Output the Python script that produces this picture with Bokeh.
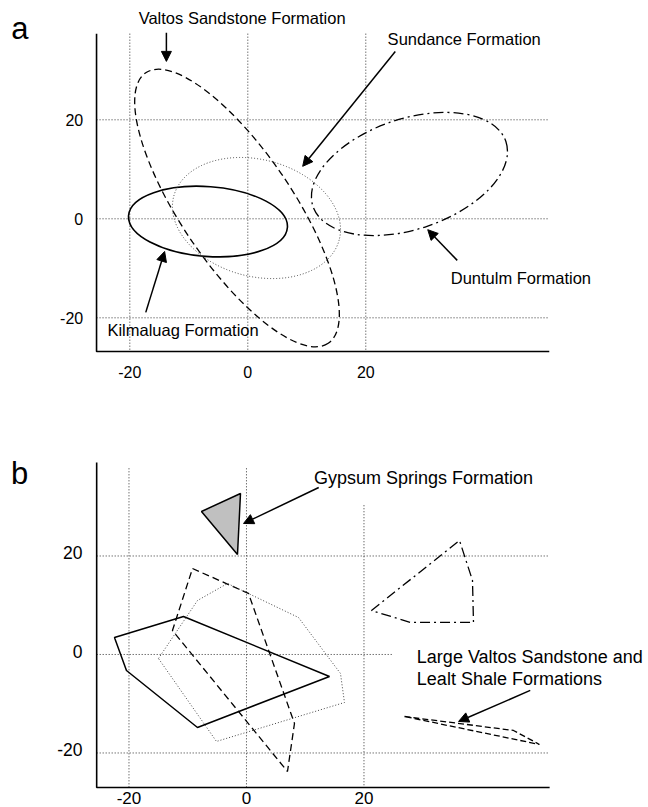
from bokeh.plotting import figure
from bokeh.layouts import column
from bokeh.models import Range1d, Label, Arrow, NormalHead
from bokeh.embed import file_html
from bokeh.resources import INLINE

FONT = "Liberation Sans"

ticks = [-20, 0, 20]
tick_text = ["-20", "0", "20"]

# ---------------- Panel a data (ellipses) ----------------
a_names = ["Kilmaluag", "Valtos", "Sundance", "Duntulm"]
a_cx = [-6.75, -1.83, 1.47, 27.4]
a_cy = [-0.55, 2.18, 0.16, 9.05]
a_w = [27.0, 55.3, 29.0, 34.5]
a_h = [14.1, 22.6, 23.6, 22.3]
a_angle = [-4.3, -56.0, -14.8, 18.6]

a_labels = ["Valtos Sandstone Formation", "Sundance Formation",
            "Duntulm Formation", "Kilmaluag Formation"]
a_label_x = [-18.5, 23.7, 34.4, -23.8]
a_label_y = [40.6, 36.4, -11.9, -22.4]
a_arrow_x0 = [-13.8, 25.0, 35.5, -17.3]
a_arrow_y0 = [37.6, 33.8, -8.4, -18.9]
a_arrow_x1 = [-13.8, 9.3, 30.5, -14.1]
a_arrow_y1 = [31.8, 10.6, -2.2, -6.6]

# axes box of panel a (data units)
a_xmin, a_xmax, a_ymin, a_ymax = -25.64, 51.1, -26.8, 37.4

# ---------------- Panel b data (polygons) ----------------
gyp_x = [-7.66, -1.02, -1.53]
gyp_y = [29.04, 32.69, 20.30]
kil_x = [-22.47, -10.72, 14.13, -8.34, -20.43]
kil_y = [3.45, 7.72, -4.47, -14.82, -3.25]
val_x = [-9.19, 0.34, 8.17, 6.98, -12.60]
val_y = [17.46, 12.39, -14.01, -23.76, 4.87]
sun_x = [-14.98, -8.34, -3.23, 8.85, 16.0, 16.68, -5.11]
sun_y = [-0.81, 10.96, 14.42, 7.51, -3.86, -9.75, -17.66]
dun_x = [21.28, 36.26, 38.47, 38.64, 27.91]
dun_y = [8.93, 23.15, 15.03, 6.5, 6.5]
lv_x = [26.89, 45.45, 49.87]
lv_y = [-12.59, -15.43, -18.27]

b_labels = ["Gypsum Springs Formation", "Large Valtos Sandstone and",
            "Lealt Shale Formations"]
b_label_x = [11.5, 29.0, 29.0]
b_label_y = [35.9, -0.6, -4.9]
b_arrow_x0 = [12.3, 48.3]
b_arrow_y0 = [33.9, -7.3]
b_arrow_x1 = [-0.5, 36.1]
b_arrow_y1 = [26.6, -13.6]

b_xmin, b_xmax, b_ymin, b_ymax = -25.5, 51.6, -27.0, 39.0
b_vgrid_x = [-20, 0, 20]
b_vgrid_top = [37.8, 37.8, 30.3]
b_hgrid_y = [20, 0, -20]
b_hgrid_right = [51.6, 25.0, 51.6]

GRID = dict(line_color="#333333", line_dash="1 2", line_width=1)


def make_fig(height, xr, yr):
    p = figure(width=648, height=height, x_range=Range1d(*xr), y_range=Range1d(*yr),
               output_backend="svg", toolbar_location=None,
               x_axis_type=None, y_axis_type=None,
               min_border=0, min_border_left=0, min_border_right=0,
               min_border_top=0, min_border_bottom=0)
    p.grid.visible = False
    p.outline_line_color = None
    return p


def add_label(p, x, y, text, size, baseline="middle", align="left", y_offset=0):
    p.add_layout(Label(x=x, y=y, text=text, text_font=FONT, text_font_size=size,
                       text_baseline=baseline, text_align=align, text_color="black",
                       y_offset=y_offset))


def add_arrow(p, x0, y0, x1, y1):
    p.add_layout(Arrow(end=NormalHead(size=10, fill_color="black", line_color="black",
                                      line_width=1),
                       x_start=x0, y_start=y0, x_end=x1, y_end=y1,
                       line_width=1.5, line_color="black"))


def add_axes(p, xmin, xmax, ymin, ymax):
    p.line([xmin, xmin, xmax], [ymax, ymin, ymin], line_color="black", line_width=1.6)


# ---------------- Figure a ----------------
# canvas 648 x 384 : x = 247.3 + 5.9*xd ; y = 218.3 - 4.95*yd
pa = make_fig(384, (-41.92, 67.92), (-33.47, 44.10))
pa.segment(x0=ticks, y0=[a_ymax] * 3, x1=ticks, y1=[a_ymin] * 3, **GRID)
pa.segment(x0=[a_xmin] * 3, y0=ticks, x1=[a_xmax] * 3, y1=ticks, **GRID)
add_axes(pa, a_xmin, a_xmax, a_ymin, a_ymax)

a_styles = [dict(line_dash="solid", line_width=1.6, line_color="black"),
            dict(line_dash="7 4", line_width=1.3, line_color="black"),
            dict(line_dash="1 2", line_width=1.0, line_color="#444444"),
            dict(line_dash="10 4 2 4", line_width=1.3, line_color="black")]
for i in range(len(a_names)):
    pa.ellipse(x=[a_cx[i]], y=[a_cy[i]], width=[a_w[i]], height=[a_h[i]],
               angle=[a_angle[i]], angle_units="deg", fill_color=None, **a_styles[i])

for i in range(len(a_labels)):
    add_label(pa, a_label_x[i], a_label_y[i], a_labels[i], "16.5px")
    add_arrow(pa, a_arrow_x0[i], a_arrow_y0[i], a_arrow_x1[i], a_arrow_y1[i])
add_label(pa, -40.1, 38.4, "a", "31px", baseline="alphabetic")

for t, s in zip(ticks, tick_text):
    add_label(pa, -27.9, t, s, "16px", align="right")
    add_label(pa, t, -30.85, s, "16px", align="center")

# ---------------- Figure b ----------------
# canvas 648 x 423 (page y 384..807): x = 246 + 5.875*xd ; y_page = 654 - 4.925*yd
pb = make_fig(423, (-41.87, 68.43), (-31.07, 54.82))
pb.segment(x0=b_vgrid_x, y0=b_vgrid_top, x1=b_vgrid_x, y1=[b_ymin] * 3, **GRID)
pb.segment(x0=[b_xmin] * 3, y0=b_hgrid_y, x1=b_hgrid_right, y1=b_hgrid_y, **GRID)
add_axes(pb, b_xmin, b_xmax, b_ymin, b_ymax)

pb.patch(gyp_x, gyp_y, fill_color="#c0c0c0", line_color="black", line_width=1.5)
pb.patch(kil_x, kil_y, fill_color=None, line_color="black", line_width=1.5)
pb.patch(val_x, val_y, fill_color=None, line_color="black", line_width=1.3, line_dash="7 4")
pb.patch(sun_x, sun_y, fill_color=None, line_color="#444444", line_width=1.0, line_dash="1 2")
pb.patch(dun_x, dun_y, fill_color=None, line_color="black", line_width=1.3, line_dash="10 4 2 4")
pb.patch(lv_x, lv_y, fill_color=None, line_color="black", line_width=1.3, line_dash="6 3")

for i in range(len(b_labels)):
    add_label(pb, b_label_x[i], b_label_y[i], b_labels[i], "18px")
for i in range(len(b_arrow_x0)):
    add_arrow(pb, b_arrow_x0[i], b_arrow_y0[i], b_arrow_x1[i], b_arrow_y1[i])
add_label(pb, -40.1, 36.8, "b", "31px", baseline="alphabetic")

for t, s in zip(ticks, tick_text):
    add_label(pb, -27.9, t, s, "17.5px", align="right", y_offset=3)
    add_label(pb, t, -29.2, s, "17px", align="center")

layout = column(pa, pb)
open("out.html", "w").write(file_html(layout, INLINE))
